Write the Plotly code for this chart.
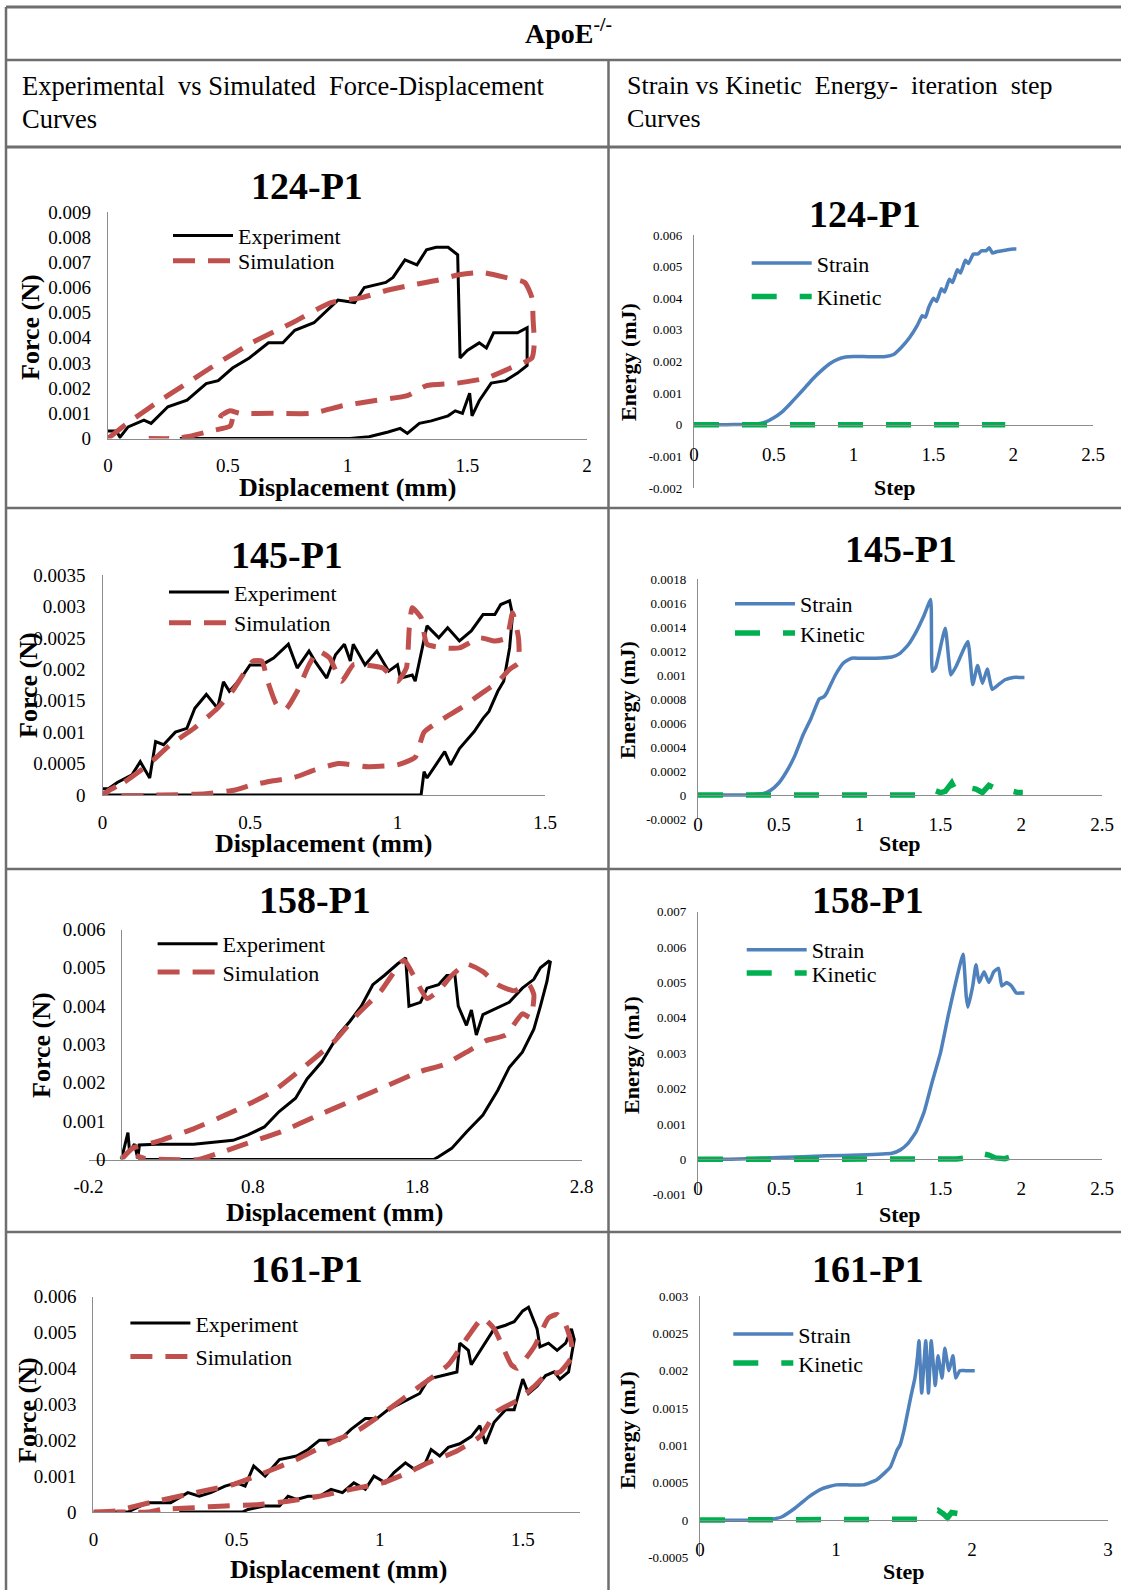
import plotly.graph_objects as go

# ===================== DATA =====================
# ---- 124-P1 : force (N) vs displacement (mm) ----
exp124_x = [0, 0.035, 0.05, 0.084, 0.15, 0.18, 0.25, 0.33, 0.41, 0.46,
            0.52, 0.59, 0.67, 0.73, 0.78, 0.86, 0.96, 1.03, 1.07, 1.16,
            1.19, 1.24, 1.29, 1.33, 1.37, 1.42, 1.46, 1.47, 1.50, 1.55,
            1.58, 1.61, 1.66, 1.71, 1.75, 1.75, 1.71, 1.66, 1.60, 1.55,
            1.52, 1.51, 1.48, 1.45, 1.42, 1.35, 1.30, 1.25, 1.22, 1.17,
            1.09, 1.01, 0.6, 0.3]
exp124_y = [0.0003, 0.0003, 0.00005, 0.00046, 0.00073, 0.0006, 0.00126, 0.00152, 0.00218, 0.0023,
            0.0028, 0.0032, 0.0038, 0.0038, 0.0043, 0.0046, 0.0055, 0.0054, 0.006, 0.0062,
            0.0064, 0.0071, 0.0069, 0.0075, 0.0076, 0.0076, 0.0073, 0.0032, 0.0035, 0.0038,
            0.0036, 0.0042, 0.0042, 0.0042, 0.0044, 0.0029, 0.0026, 0.0023, 0.0022, 0.0015,
            0.0009, 0.0018, 0.001, 0.0011, 0.0009, 0.0007, 0.0006, 0.0002, 0.0004, 0.00026,
            0.00007, 0, 0, 0]
sim124_x = [0, 0.08, 0.2, 0.33, 0.46, 0.6, 0.77, 0.93, 1.06, 1.17,
            1.27, 1.38, 1.46, 1.56, 1.66, 1.74, 1.77, 1.775, 1.78, 1.77,
            1.68, 1.58, 1.46, 1.33, 1.25, 1.11, 0.98, 0.85, 0.69, 0.55,
            0.51, 0.47, 0.52, 0.51, 0.43, 0.33, 0.28, 0.17]
sim124_y = [0, 0.0006, 0.0014, 0.0022, 0.003, 0.0038, 0.0046, 0.0054, 0.0056, 0.0059,
            0.0061, 0.0063, 0.0065, 0.0066, 0.0064, 0.0062, 0.0056, 0.0047, 0.0038, 0.0032,
            0.0028, 0.0024, 0.0022, 0.0021, 0.0017, 0.0015, 0.0013, 0.001, 0.001, 0.001,
            0.0011, 0.0009, 0.0009, 0.0005, 0.0003, 0.00007, 0, 0]

# ---- 124-P1 : energy (mJ) vs step ----
strain124_x = [0, 0.2, 0.3, 0.4, 0.45, 0.5, 0.55, 0.6, 0.65, 0.7,
               0.75, 0.8, 0.85, 0.9, 0.95, 1.0, 1.1, 1.2, 1.25, 1.3,
               1.35, 1.4, 1.43, 1.45, 1.47, 1.5, 1.52, 1.55, 1.57, 1.6,
               1.62, 1.65, 1.67, 1.7, 1.72, 1.75, 1.78, 1.8, 1.83, 1.85,
               1.87, 1.9, 1.95, 2.0, 2.02]
strain124_y = [0, 0, 0.00001, 0.00003, 0.00009, 0.00022, 0.0004, 0.00065, 0.00092, 0.0012,
               0.00148, 0.00172, 0.00193, 0.00207, 0.00214, 0.00216, 0.00215, 0.00216, 0.00222, 0.00245,
               0.00275, 0.00315, 0.00345, 0.0034, 0.0037, 0.004, 0.0039, 0.0043, 0.0042, 0.0046,
               0.0045, 0.0049, 0.0048, 0.0052, 0.0051, 0.0054, 0.0054, 0.0055, 0.0055, 0.0056,
               0.00543, 0.00548, 0.00552, 0.00556, 0.00556]
kin124_x = [0, 0.5, 1.0, 1.5, 1.95]
kin124_y = [0, 0, 0, 0, 0]

# ---- 145-P1 : force vs displacement ----
exp145_x = [0, 0.02, 0.05, 0.10, 0.128, 0.16, 0.18, 0.207, 0.247, 0.286,
            0.313, 0.352, 0.39, 0.41, 0.43, 0.47, 0.50, 0.54, 0.58, 0.63,
            0.66, 0.70, 0.72, 0.76, 0.79, 0.82, 0.84, 0.85, 0.89, 0.93,
            0.97, 1.0, 1.01, 1.05, 1.06, 1.10, 1.14, 1.17, 1.21, 1.25,
            1.29, 1.33, 1.35, 1.38, 1.39, 1.38, 1.36, 1.34, 1.31, 1.29,
            1.26, 1.24, 1.21, 1.18, 1.16, 1.13, 1.10, 1.09, 1.08, 0.5,
            0.0]
exp145_y = [0.0001, 0.0001, 0.0002, 0.00032, 0.00053, 0.00027, 0.00085, 0.0008, 0.001, 0.00106,
            0.00138, 0.0016, 0.00138, 0.0018, 0.00165, 0.00186, 0.00207, 0.00207, 0.00218, 0.0024,
            0.00202, 0.00229, 0.00213, 0.00186, 0.00223, 0.0024, 0.00213, 0.0024, 0.00207, 0.00229,
            0.00197, 0.00207, 0.00186, 0.00191, 0.00181, 0.00269, 0.0025, 0.00266, 0.00245, 0.00261,
            0.00287, 0.00287, 0.00303, 0.00309, 0.00287, 0.00234, 0.00181, 0.00165, 0.00133, 0.00122,
            0.00101, 0.0009, 0.00074, 0.00048, 0.00069, 0.00048, 0.00027, 0.00037, 0, 0,
            0]
sim145_x = [0, 0.075, 0.154, 0.23, 0.31, 0.39, 0.44, 0.51, 0.54, 0.56,
            0.59, 0.62, 0.66, 0.70, 0.73, 0.77, 0.81, 0.85, 0.89, 0.95,
            1.0, 1.03, 1.04, 1.05, 1.08, 1.10, 1.16, 1.21, 1.28, 1.33,
            1.37, 1.39, 1.41, 1.41, 1.38, 1.34, 1.28, 1.22, 1.15, 1.09,
            1.06, 1.0, 0.9, 0.8, 0.72, 0.65, 0.57, 0.5, 0.45, 0.35,
            0.2, 0.0]
sim145_y = [0, 0.00021, 0.00048, 0.0008, 0.00106, 0.00138, 0.00165, 0.00213, 0.00213, 0.00181,
            0.00144, 0.00136, 0.00165, 0.00207, 0.00229, 0.00218, 0.00181, 0.00207, 0.00207, 0.00202,
            0.00181, 0.00202, 0.00266, 0.00298, 0.00282, 0.0024, 0.00234, 0.00234, 0.0025, 0.00245,
            0.0025, 0.0029, 0.0025, 0.0021, 0.002, 0.0018, 0.0016, 0.0014, 0.0012, 0.001,
            0.0006, 0.00048, 0.00045, 0.0005, 0.0004, 0.00028, 0.00022, 0.00015, 0.00008, 0.00002,
            0, 0]

# ---- 145-P1 : energy vs step ----
strain145_x = [0, 0.3, 0.4, 0.45, 0.5, 0.55, 0.6, 0.65, 0.7, 0.75,
               0.78, 0.8, 0.85, 0.9, 0.95, 1.0, 1.1, 1.2, 1.25, 1.3,
               1.35, 1.4, 1.44, 1.45, 1.47, 1.53, 1.565, 1.6, 1.67, 1.70,
               1.73, 1.76, 1.79, 1.82, 1.86, 1.9, 1.95, 2.0, 2.02]
strain145_y = [0, 0, 0.00001, 0.00004, 0.0001, 0.0002, 0.00033, 0.0005, 0.00064, 0.0008,
               0.00082, 0.00086, 0.001, 0.0011, 0.00114, 0.00114, 0.00114, 0.00115, 0.00118, 0.00125,
               0.00136, 0.0015, 0.00163, 0.00103, 0.00106, 0.00139, 0.001, 0.00108, 0.00128, 0.00092,
               0.00108, 0.00093, 0.00105, 0.00088, 0.00092, 0.00096, 0.00098, 0.00098, 0.00098]
kin145_x = [0, 0.3, 0.6, 0.9, 1.2, 1.38, 1.44, 1.47, 1.5, 1.53,
            1.57, 1.6, 1.64, 1.68, 1.72, 1.76, 1.8, 1.83, 1.86, 1.9,
            1.95, 1.98, 2.01]
kin145_y = [0, 0, 0, 0, 0, 0, 0.00005, 0.00004, 0.00002, 0.00003,
            0.0001, 0.00002, 0.00003, 0.00006, 0.00005, 0.00002, 0.00008, 0.00006, 0.00003, 0.00001,
            0.00003, 0.00002, 0.00002]

# ---- 158-P1 : force vs displacement ----
exp158_x = [0, 0.04, 0.05, 0.08, 0.1, 0.11, 0.21, 0.44, 0.68, 0.77,
            0.87, 0.96, 1.06, 1.13, 1.22, 1.32, 1.39, 1.46, 1.53, 1.60,
            1.68, 1.73, 1.75, 1.82, 1.86, 1.93, 1.98, 2.03, 2.05, 2.10,
            2.13, 2.16, 2.20, 2.29, 2.36, 2.44, 2.51, 2.55, 2.60, 2.61,
            2.59, 2.55, 2.51, 2.44, 2.36, 2.29, 2.20, 2.10, 2.01, 1.93,
            1.90, 1.0, 0.1]
exp158_y = [0, 0.0007, 0.0002, 0.0004, 0.00003, 0.00038, 0.0004, 0.0004, 0.0005, 0.00064,
            0.00085, 0.00125, 0.0016, 0.0021, 0.00255, 0.00325, 0.0036, 0.004, 0.00456, 0.0048,
            0.0051, 0.00526, 0.004, 0.0041, 0.00447, 0.00456, 0.0048, 0.0048, 0.004, 0.0035,
            0.0039, 0.00325, 0.00378, 0.00395, 0.0041, 0.00447, 0.0047, 0.005, 0.00517, 0.00515,
            0.00465, 0.004, 0.0034, 0.0028, 0.0024, 0.0018, 0.00116, 0.00072, 0.00029, 0.00007,
            0, 0, 0]
sim158_x = [0, 0.07, 0.21, 0.44, 0.68, 0.92, 1.15, 1.30, 1.44, 1.58,
            1.72, 1.79, 1.86, 1.93, 2.01, 2.10, 2.20, 2.29, 2.39, 2.48,
            2.51, 2.49, 2.44, 2.34, 2.22, 2.10, 1.96, 1.82, 1.63, 1.44,
            1.20, 0.97, 0.73, 0.59, 0.47, 0.28, 0.14, 0.09]
sim158_y = [0, 0.0003, 0.00046, 0.0008, 0.00125, 0.00177, 0.00255, 0.0031, 0.0038, 0.0044,
            0.0052, 0.0047, 0.0042, 0.0044, 0.0048, 0.0051, 0.0049, 0.00456, 0.0044, 0.00456,
            0.0043, 0.0037, 0.0038, 0.00325, 0.0031, 0.0028, 0.00247, 0.0023, 0.00195, 0.0016,
            0.00116, 0.00072, 0.00037, 0.00016, 0, 0, 0.00003, 0.0001]

# ---- 158-P1 : energy vs step ----
strain158_x = [0, 0.2, 0.5, 0.8, 1.0, 1.2, 1.25, 1.3, 1.35, 1.4,
               1.45, 1.5, 1.55, 1.6, 1.64, 1.66, 1.67, 1.7, 1.72, 1.74,
               1.77, 1.8, 1.83, 1.86, 1.88, 1.91, 1.94, 1.97, 2.0, 2.02]
strain158_y = [0, 0, 0.00005, 0.0001, 0.00012, 0.00017, 0.00026, 0.00045, 0.00078, 0.00135,
               0.0022, 0.003, 0.0041, 0.0051, 0.0058, 0.0046, 0.0043, 0.0049, 0.0055, 0.005,
               0.0053, 0.005, 0.0053, 0.0054, 0.0049, 0.005, 0.0049, 0.0047, 0.0047, 0.0047]
kin158_x = [0, 0.4, 0.8, 1.2, 1.5, 1.6, 1.68, 1.72, 1.76, 1.8,
            1.84, 1.9, 1.94, 1.98, 2.01]
kin158_y = [0, 0, 0, 0, 0, 0.00001, 0.00005, 0.00015, 0.00016, 0.00012,
            0.00004, 0.00002, 0.00008, 0.00007, 0.00003]

# ---- 161-P1 : force vs displacement ----
exp161_x = [0, 0.12, 0.19, 0.27, 0.33, 0.37, 0.41, 0.46, 0.50, 0.53,
            0.56, 0.60, 0.65, 0.71, 0.75, 0.79, 0.86, 0.90, 0.95, 0.99,
            1.03, 1.09, 1.14, 1.17, 1.22, 1.27, 1.28, 1.31, 1.32, 1.36,
            1.40, 1.44, 1.47, 1.50, 1.52, 1.55, 1.56, 1.59, 1.62, 1.65,
            1.67, 1.68, 1.67, 1.66, 1.63, 1.61, 1.58, 1.55, 1.52, 1.50,
            1.47, 1.44, 1.40, 1.37, 1.35, 1.32, 1.28, 1.24, 1.21, 1.18,
            1.16, 1.12, 1.09, 1.05, 1.02, 0.98, 0.95, 0.91, 0.87, 0.83,
            0.79, 0.75, 0.71, 0.68, 0.65, 0.60, 0.54, 0.52, 0.3]
exp161_y = [0, 0, 0.00026, 0.00026, 0.00054, 0.00044, 0.00054, 0.00072, 0.00081, 0.00072,
            0.00128, 0.001, 0.00146, 0.00156, 0.00174, 0.002, 0.002, 0.0023, 0.0026, 0.0026,
            0.00285, 0.0031, 0.0033, 0.0037, 0.0038, 0.0039, 0.0047, 0.0045, 0.0041, 0.0046,
            0.0051, 0.0052, 0.0053, 0.0056, 0.0057, 0.0051, 0.0046, 0.0047, 0.0045, 0.0047,
            0.0051, 0.0048, 0.0043, 0.0039, 0.0037, 0.0039, 0.0038, 0.0035, 0.0033, 0.0037,
            0.00285, 0.00285, 0.0025, 0.0019, 0.0024, 0.0021, 0.0019, 0.0018, 0.00156, 0.00174,
            0.00137, 0.0012, 0.00137, 0.0011, 0.00081, 0.001, 0.00063, 0.00081, 0.00054, 0.00063,
            0.00044, 0.00044, 0.00035, 0.00044, 0.00017, 0.00017, 0.00007, 0, 0]
sim161_x = [0, 0.08, 0.15, 0.22, 0.30, 0.38, 0.49, 0.60, 0.71, 0.82,
            0.93, 1.03, 1.14, 1.24, 1.31, 1.36, 1.40, 1.43, 1.46, 1.48,
            1.54, 1.59, 1.62, 1.65, 1.67, 1.67, 1.63, 1.58, 1.54, 1.48,
            1.41, 1.35, 1.27, 1.17, 1.10, 1.01, 0.90, 0.79, 0.68, 0.57,
            0.46, 0.35, 0.24, 0.19, 0.08]
sim161_y = [0, 0.00003, 0.00017, 0.0003, 0.00044, 0.00058, 0.00077, 0.0011, 0.00146, 0.0019,
            0.0023, 0.00285, 0.0035, 0.0041, 0.0049, 0.0054, 0.0051, 0.0046, 0.0041, 0.004,
            0.0046, 0.0054, 0.0055, 0.0052, 0.0047, 0.0043, 0.0039, 0.0038, 0.0035, 0.0031,
            0.0028, 0.0021, 0.0017, 0.00137, 0.0011, 0.00081, 0.00063, 0.00044, 0.0003, 0.0002,
            0.00017, 0.00012, 0.00007, 0, 0]

# ---- 161-P1 : energy vs step ----
strain161_x = [0, 0.5, 0.6, 0.7, 0.8, 0.9, 1.0, 1.1, 1.2, 1.3,
               1.4, 1.45, 1.47, 1.5, 1.55, 1.58, 1.6, 1.61, 1.63, 1.66,
               1.68, 1.70, 1.73, 1.75, 1.78, 1.8, 1.83, 1.86, 1.88, 1.91,
               1.95, 2.0, 2.02]
strain161_y = [0, 0, 0.00004, 0.00016, 0.00031, 0.00042, 0.00047, 0.00047, 0.00047, 0.00054,
               0.00071, 0.00094, 0.001, 0.0012, 0.00165, 0.0019, 0.0022, 0.0024, 0.0017, 0.0024,
               0.0017, 0.0024, 0.0018, 0.0022, 0.0019, 0.0023, 0.002, 0.0022, 0.0019, 0.002,
               0.002, 0.002, 0.002]
kin161_x = [0, 0.4, 0.8, 1.2, 1.5, 1.62, 1.67, 1.71, 1.75, 1.79,
            1.82, 1.85, 1.88, 1.92]
kin161_y = [0, 0, 0, 0, 0, 0.00001, 0.00008, 0.0001, 0.00013, 0.00008,
            0.00003, 0.0001, 0.00009, 0.00008]

# ---- tick values ----
fd124_xticks = [0, 0.5, 1, 1.5, 2]
fd124_yticks = [0, 0.001, 0.002, 0.003, 0.004, 0.005, 0.006, 0.007, 0.008, 0.009]
fd145_xticks = [0, 0.5, 1, 1.5]
fd145_yticks = [0, 0.0005, 0.001, 0.0015, 0.002, 0.0025, 0.003, 0.0035]
fd158_xticks = [-0.2, 0.8, 1.8, 2.8]
fd158_yticks = [0, 0.001, 0.002, 0.003, 0.004, 0.005, 0.006]
fd161_xticks = [0, 0.5, 1, 1.5]
fd161_yticks = [0, 0.001, 0.002, 0.003, 0.004, 0.005, 0.006]
en_xticks = [0, 0.5, 1, 1.5, 2, 2.5]
en161_xticks = [0, 1, 2, 3]
en124_yticks = [-0.002, -0.001, 0, 0.001, 0.002, 0.003, 0.004, 0.005, 0.006]
en145_yticks = [-0.0002, 0, 0.0002, 0.0004, 0.0006, 0.0008, 0.001, 0.0012, 0.0014, 0.0016, 0.0018]
en158_yticks = [-0.001, 0, 0.001, 0.002, 0.003, 0.004, 0.005, 0.006, 0.007]
en161_yticks = [-0.0005, 0, 0.0005, 0.001, 0.0015, 0.002, 0.0025, 0.003]

# ===================== STYLE / GEOMETRY =====================
W, H = 1121, 1590
SERIF = "Liberation Serif, Times New Roman, serif"
AXIS_GREY = "#8c8c8c"
BORDER = "#6e6e6e"

STYLE = {
    "Experiment": dict(line=dict(color="black", width=3), mode="lines"),
    "Simulation": dict(line=dict(color="#C0504D", width=5, dash="22px,13px", shape="spline", smoothing=0.5), mode="lines"),
    "Strain": dict(line=dict(color="#4F81BD", width=3.5, shape="spline", smoothing=0.4), mode="lines"),
    "Kinetic": dict(line=dict(color="#00B050", width=5.5, dash="25px,23px"), mode="lines"),
}


def fx(px):
    return px / W


def fy(py):
    return 1 - py / H


def general(v):
    s = f"{v:.6f}".rstrip("0").rstrip(".")
    return "0" if s in ("-0", "") else s


panels = [
    dict(kind="fd", title="124-P1", xpx=(108, 587), ypx=(212, 438.5), xr=[0, 2], yr=[0, 0.009],
         xt=fd124_xticks, yt=fd124_yticks, tpos=(306.5, 186), xtpos=(348, 487), ytpos=(30, 327),
         leg=[(173, 235.7), (173, 261)],
         series=[(exp124_x, exp124_y, "Experiment"), (sim124_x, sim124_y, "Simulation")]),
    dict(kind="en", title="124-P1", xpx=(694, 1093), ypx=(235, 488), xr=[0, 2.5], yr=[-0.002, 0.006],
         xt=en_xticks, yt=en124_yticks, tpos=(865, 213.5), xtpos=(895, 488), ytpos=(629, 362),
         leg=[(751.7, 263.3), (751.7, 296.7)],
         series=[(strain124_x, strain124_y, "Strain"), (kin124_x, kin124_y, "Kinetic")]),
    dict(kind="fd", title="145-P1", xpx=(102.5, 545), ypx=(575, 795), xr=[0, 1.5], yr=[0, 0.0035],
         xt=fd145_xticks, yt=fd145_yticks, tpos=(287, 555), xtpos=(323, 843), ytpos=(28, 685),
         leg=[(169, 592.3), (169, 623)],
         series=[(exp145_x, exp145_y, "Experiment"), (sim145_x, sim145_y, "Simulation")]),
    dict(kind="en", title="145-P1", xpx=(698, 1102), ypx=(579, 819), xr=[0, 2.5], yr=[-0.0002, 0.0018],
         xt=en_xticks, yt=en145_yticks, tpos=(901, 549), xtpos=(900, 843), ytpos=(627, 700),
         leg=[(735, 604), (735, 633.3)],
         series=[(strain145_x, strain145_y, "Strain"), (kin145_x, kin145_y, "Kinetic")]),
    dict(kind="fd", title="158-P1", xpx=(88.5, 581.5), ypx=(929.5, 1159.5), xr=[-0.2, 2.8], yr=[0, 0.006],
         xt=fd158_xticks, yt=fd158_yticks, tpos=(315, 899.5), xtpos=(334, 1212), ytpos=(41, 1045),
         leg=[(157.6, 944), (157.6, 972.3)],
         series=[(exp158_x, exp158_y, "Experiment"), (sim158_x, sim158_y, "Simulation")]),
    dict(kind="en", title="158-P1", xpx=(698, 1102), ypx=(911.7, 1194.7), xr=[0, 2.5], yr=[-0.001, 0.007],
         xt=en_xticks, yt=en158_yticks, tpos=(868, 899.5), xtpos=(900, 1214), ytpos=(631, 1055),
         leg=[(746.7, 950), (746.7, 973.3)],
         series=[(strain158_x, strain158_y, "Strain"), (kin158_x, kin158_y, "Kinetic")]),
    dict(kind="fd", title="161-P1", xpx=(93.4, 580), ypx=(1296.5, 1512), xr=[0, 1.7], yr=[0, 0.006],
         xt=fd161_xticks, yt=fd161_yticks, tpos=(306.5, 1268.5), xtpos=(338, 1569), ytpos=(27, 1410),
         leg=[(130.4, 1323.3), (130.4, 1356.7)],
         series=[(exp161_x, exp161_y, "Experiment"), (sim161_x, sim161_y, "Simulation")]),
    dict(kind="en", title="161-P1", xpx=(700, 1108), ypx=(1296, 1557.3), xr=[0, 3], yr=[-0.0005, 0.003],
         xt=en161_xticks, yt=en161_yticks, tpos=(868, 1268.5), xtpos=(904, 1571), ytpos=(627, 1430),
         leg=[(733.3, 1334.3), (733.3, 1363.3)],
         series=[(strain161_x, strain161_y, "Strain"), (kin161_x, kin161_y, "Kinetic")]),
]

fig = go.Figure()
layout = dict(
    template="none",
    width=W, height=H, autosize=False,
    margin=dict(l=0, r=0, t=0, b=0, pad=0, autoexpand=False),
    paper_bgcolor="white", plot_bgcolor="white",
    font=dict(family=SERIF, color="black"),
    showlegend=True,
)
annotations = []
shapes = []


def add_text(x, y, s, size, bold=False, xanchor="center", angle=0):
    annotations.append(dict(
        x=fx(x), y=fy(y), xref="paper", yref="paper", text=s, showarrow=False,
        font=dict(family=SERIF, size=size, color="black", weight="bold" if bold else "normal"),
        xanchor=xanchor, yanchor="middle", textangle=angle))


legend_count = 0
for i, p in enumerate(panels, start=1):
    sfx = "" if i == 1 else str(i)
    xname, yname = "xaxis" + sfx, "yaxis" + sfx
    xref, yref = "x" + sfx, "y" + sfx
    x0, x1 = p["xpx"]
    yt_, yb_ = p["ypx"]
    xmin, xmax = p["xr"]
    ymin, ymax = p["yr"]
    fd = p["kind"] == "fd"

    xa = dict(domain=[fx(x0), fx(x1)], range=p["xr"], showline=True, linecolor=AXIS_GREY, linewidth=1.3,
              showgrid=False, zeroline=False, ticks="", tickmode="array", tickvals=p["xt"],
              ticktext=[general(v) for v in p["xt"]], ticklabelstandoff=10, automargin=False,
              tickfont=dict(family=SERIF, size=19, color="black"), fixedrange=True)
    ya = dict(domain=[fy(yb_), fy(yt_)], range=p["yr"], showline=True, linecolor=AXIS_GREY, linewidth=1.3,
              showgrid=False, zeroline=False, ticks="", tickmode="array", tickvals=p["yt"],
              ticktext=[general(v) for v in p["yt"]], automargin=False, fixedrange=True)
    if fd:
        xa.update(anchor=yref)
        ya.update(ticklabelstandoff=12, tickfont=dict(family=SERIF, size=19, color="black"))
        if xmin < 0:
            xzero = x0 + (0 - xmin) / (xmax - xmin) * (x1 - x0)
            ya.update(anchor="free", position=fx(xzero))
        else:
            ya.update(anchor=xref)
    else:
        yzero = yb_ - (0 - ymin) / (ymax - ymin) * (yb_ - yt_)
        xa.update(anchor="free", position=fy(yzero), ticklabelstandoff=12)
        ya.update(anchor=xref, ticklabelstandoff=8, tickfont=dict(family=SERIF, size=13, color="black"))
    layout[xname] = xa
    layout[yname] = ya

    for (sx, sy, name), (lx, ly) in zip(p["series"], p["leg"]):
        legend_count += 1
        lname = "legend" if legend_count == 1 else f"legend{legend_count}"
        st = STYLE[name]
        fig.add_trace(go.Scatter(x=sx, y=sy, name=name, xaxis=xref, yaxis=yref,
                                 mode=st["mode"], line=st["line"], legend=lname, hoverinfo="skip"))
        layout[lname] = dict(x=fx(lx - 5), y=fy(ly), xanchor="left", yanchor="middle",
                             bgcolor="rgba(0,0,0,0)", borderwidth=0, itemwidth=60,
                             font=dict(family=SERIF, size=22, color="black"))

    add_text(*p["tpos"], p["title"], 38, bold=True)
    add_text(*p["xtpos"], "Displacement (mm)" if fd else "Step", 26 if fd else 22, bold=True)
    add_text(*p["ytpos"], "Force (N)" if fd else "Energy (mJ)", 26 if fd else 22, bold=True, angle=-90)

# ---- table header texts ----
add_text(568, 31.5, "ApoE<sup>-/-</sup>", 28, bold=True)
add_text(20, 85.5, "Experimental\u00a0\u00a0vs Simulated\u00a0\u00a0Force-Displacement", 26.5, xanchor="left")
add_text(20, 118.5, "Curves", 26.5, xanchor="left")
add_text(625, 85.5, "Strain vs Kinetic\u00a0\u00a0Energy-\u00a0\u00a0iteration\u00a0\u00a0step", 26, xanchor="left")
add_text(625, 118.5, "Curves", 26, xanchor="left")


# ---- table rules ----
def hline(y, w=2.5):
    shapes.append(dict(type="line", xref="paper", yref="paper", x0=fx(6), x1=1.0, y0=fy(y), y1=fy(y),
                       line=dict(color=BORDER, width=w)))


def vline(x, ya, yb, w=2.5):
    shapes.append(dict(type="line", xref="paper", yref="paper", x0=fx(x), x1=fx(x), y0=fy(ya), y1=fy(yb),
                       line=dict(color=BORDER, width=w)))


hline(7, 3)
hline(60)
hline(147, 3)
hline(508)
hline(869)
hline(1232)
vline(6, 7, H)
vline(608.5, 60, H)

layout["annotations"] = annotations
layout["shapes"] = shapes
fig.update_layout(**layout)
fig.write_html("out.html")
